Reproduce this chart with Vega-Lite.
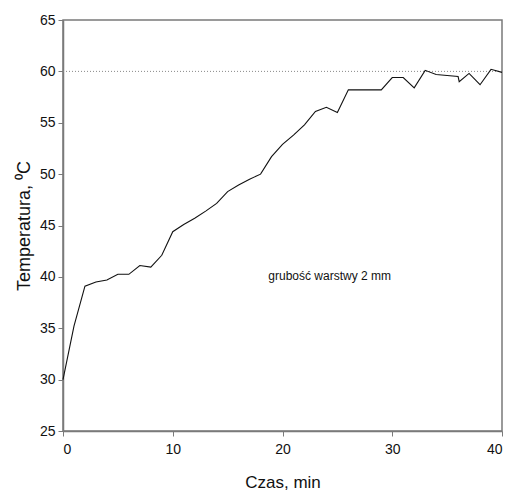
{
  "$schema": "https://vega.github.io/schema/vega-lite/v6.json",
  "autosize": "none",
  "width": 439,
  "height": 411,
  "padding": {"left": 63, "top": 20, "right": 10, "bottom": 64},
  "background": "white",
  "config": {
    "view": {"stroke": "#7a7a7a", "strokeWidth": 1.5},
    "axis": {
      "domainColor": "#7a7a7a",
      "domainWidth": 1.5,
      "tickColor": "#7a7a7a",
      "tickSize": 5,
      "grid": false,
      "labelFont": "Liberation Sans",
      "labelFontSize": 14,
      "labelColor": "#111",
      "titleFont": "Liberation Sans",
      "titleFontSize": 17,
      "titleFontWeight": "normal",
      "titleColor": "#111"
    }
  },
  "datasets": {
    "series": [
      {"t": 0, "temp": 30.0},
      {"t": 1, "temp": 35.2},
      {"t": 2, "temp": 39.1},
      {"t": 3, "temp": 39.5},
      {"t": 4, "temp": 39.7},
      {"t": 5, "temp": 40.25},
      {"t": 6, "temp": 40.25},
      {"t": 7, "temp": 41.1},
      {"t": 8, "temp": 40.95},
      {"t": 9, "temp": 42.1},
      {"t": 10, "temp": 44.4},
      {"t": 11, "temp": 45.1},
      {"t": 12, "temp": 45.7},
      {"t": 13, "temp": 46.4},
      {"t": 14, "temp": 47.15},
      {"t": 15, "temp": 48.3},
      {"t": 16, "temp": 48.95},
      {"t": 17, "temp": 49.5},
      {"t": 18, "temp": 50.0},
      {"t": 19, "temp": 51.7},
      {"t": 20, "temp": 52.9},
      {"t": 21, "temp": 53.8},
      {"t": 22, "temp": 54.8},
      {"t": 23, "temp": 56.1},
      {"t": 24, "temp": 56.5},
      {"t": 25, "temp": 56.0},
      {"t": 26, "temp": 58.2},
      {"t": 27, "temp": 58.2},
      {"t": 28, "temp": 58.2},
      {"t": 29, "temp": 58.2},
      {"t": 30, "temp": 59.4},
      {"t": 31, "temp": 59.4},
      {"t": 32, "temp": 58.4},
      {"t": 33, "temp": 60.1},
      {"t": 34, "temp": 59.7},
      {"t": 35, "temp": 59.6},
      {"t": 36, "temp": 59.5},
      {"t": 36.1, "temp": 59.0},
      {"t": 37, "temp": 59.8},
      {"t": 38, "temp": 58.7},
      {"t": 39, "temp": 60.2},
      {"t": 40, "temp": 59.9}
    ],
    "ref": [{"temp": 60}],
    "note": [{"t": 24.3, "temp": 40.1, "label": "grubość warstwy 2 mm"}]
  },
  "layer": [
    {
      "data": {"name": "ref"},
      "mark": {"type": "rule", "color": "#888", "strokeDash": [1, 2], "strokeWidth": 1},
      "encoding": {
        "y": {"field": "temp", "type": "quantitative", "scale": {"domain": [25, 65]}}
      }
    },
    {
      "data": {"name": "series"},
      "mark": {"type": "line", "color": "#111", "strokeWidth": 1.1},
      "encoding": {
        "x": {
          "field": "t", "type": "quantitative",
          "scale": {"domain": [0, 40], "nice": false},
          "axis": {"values": [0, 10, 20, 30, 40], "title": "Czas, min", "titlePadding": 18, "labelPadding": 6}
        },
        "y": {
          "field": "temp", "type": "quantitative",
          "scale": {"domain": [25, 65], "nice": false, "zero": false},
          "axis": {"values": [25, 30, 35, 40, 45, 50, 55, 60, 65], "title": "Temperatura, ⁰C", "titlePadding": 6, "titleFontSize": 18, "labelPadding": 3}
        }
      }
    },
    {
      "data": {"name": "note"},
      "mark": {"type": "text", "font": "Liberation Sans", "fontSize": 12, "color": "#111", "align": "center", "baseline": "middle"},
      "encoding": {
        "x": {"field": "t", "type": "quantitative"},
        "y": {"field": "temp", "type": "quantitative"},
        "text": {"field": "label"}
      }
    }
  ]
}
